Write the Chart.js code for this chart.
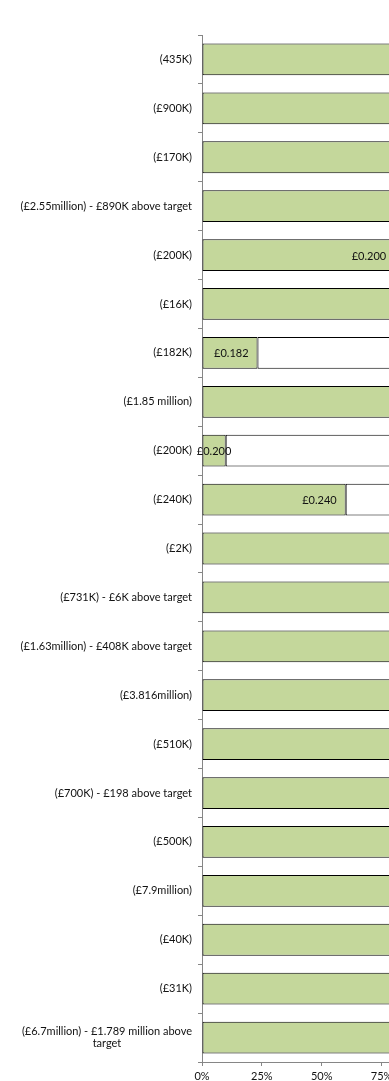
<!DOCTYPE html>
<html>
<head>
<meta charset="utf-8">
<title>Fundraising progress by project</title>
<script src="https://cdn.jsdelivr.net/npm/chart.js@4/dist/chart.umd.min.js"></script>
<style>
  html, body { margin: 0; padding: 0; background: #fff; overflow: hidden; }
  #wrap { width: 460px; height: 1081px; }
</style>
</head>
<body>
<div id="wrap"><canvas id="c" width="460" height="1081"></canvas></div>
<script>
// Project labels (target amounts), top to bottom
const categories = [
  '(435K)',
  '(£900K)',
  '(£170K)',
  '(£2.55million) - £890K above target',
  '(£200K)',
  '(£16K)',
  '(£182K)',
  '(£1.85 million)',
  '(£200K)',
  '(£240K)',
  '(£2K)',
  '(£731K) - £6K above target',
  '(£1.63million) - £408K above target',
  '(£3.816million)',
  '(£510K)',
  '(£700K) - £198 above target',
  '(£500K)',
  '(£7.9million)',
  '(£40K)',
  '(£31K)',
  ['(£6.7million) - £1.789 million above', 'target']
];

// Amount raised so far, £ million
const raised = [0.435, 0.900, 0.170, 2.550, 0.200, 0.016, 0.182, 1.850, 0.200, 0.240,
                0.002, 0.731, 1.630, 3.816, 0.510, 0.700, 0.500, 7.900, 0.040, 0.031, 6.700];

// Amount still to raise, £ million
const remaining = [0, 0, 0, 0, 0.048, 0, 0.603, 0, 1.820, 0.160,
                   0, 0, 0, 0, 0, 0, 0, 0, 0, 0, 0];

// Percentage axis ticks
const xTicks = [0, 25, 50, 75, 100];

const FONT = 'Lato, "Open Sans", sans-serif';
const TEXT = '#111111';
const SIZE = 11;

// 100% stacked shares
const totals = raised.map((r, i) => r + remaining[i]);
const raisedPct = raised.map((r, i) => totals[i] ? r / totals[i] * 100 : 0);
const remainingPct = remaining.map((r, i) => totals[i] ? r / totals[i] * 100 : 0);

// Draws the category names (multi-line names centred on their widest line)
const categoryLabels = {
  id: 'categoryLabels',
  afterDraw(chart) {
    const { ctx } = chart;
    const y = chart.scales.y;
    ctx.save();
    ctx.font = SIZE + 'px ' + FONT;
    ctx.fillStyle = TEXT;
    ctx.textAlign = 'center';
    ctx.textBaseline = 'middle';
    const right = y.right - 10;
    const lh = 11.5;
    chart.data.labels.forEach((lab, i) => {
      const lines = Array.isArray(lab) ? lab : [lab];
      const w = Math.max(...lines.map(l => ctx.measureText(l).width));
      const cx = right - w / 2;
      const cy = y.getPixelForValue(i);
      const y0 = cy - (lines.length - 1) * lh / 2;
      lines.forEach((l, k) => ctx.fillText(l, cx, y0 + k * lh));
    });
    ctx.restore();
  }
};

// Value labels on the raised bars, at the inside end
const valueLabels = {
  id: 'valueLabels',
  afterDatasetsDraw(chart) {
    const { ctx } = chart;
    const meta = chart.getDatasetMeta(0);
    ctx.save();
    ctx.font = SIZE + 'px ' + FONT;
    ctx.fillStyle = TEXT;
    ctx.textBaseline = 'middle';
    meta.data.forEach((bar, i) => {
      const txt = '£' + raised[i].toFixed(3);
      const tw = ctx.measureText(txt).width;
      const pad = 9;
      const left = Math.min(bar.base, bar.x), end = Math.max(bar.base, bar.x);
      if (end - left >= tw + pad * 2) {
        ctx.textAlign = 'right';
        ctx.fillText(txt, end - pad, bar.y + 1);
      } else {
        ctx.textAlign = 'center';
        ctx.fillText(txt, (left + end) / 2, bar.y + 1);
      }
    });
    ctx.restore();
  }
};

new Chart(document.getElementById('c'), {
  type: 'bar',
  data: {
    labels: categories,
    datasets: [
      {
        label: 'Raised',
        data: raisedPct,
        backgroundColor: '#c4d79b',
        borderColor: '#000000',
        borderWidth: 1,
        borderSkipped: false,
        barPercentage: 0.65,
        categoryPercentage: 1
      },
      {
        label: 'Remaining',
        data: remainingPct,
        backgroundColor: '#ffffff',
        borderColor: '#000000',
        borderWidth: 1,
        borderSkipped: false,
        barPercentage: 0.65,
        categoryPercentage: 1
      }
    ]
  },
  options: {
    indexAxis: 'y',
    responsive: false,
    animation: false,
    devicePixelRatio: 1,
    layout: { padding: { top: 35, right: 18.5, bottom: 0, left: 0 } },
    plugins: {
      legend: { display: false },
      tooltip: { enabled: false }
    },
    scales: {
      x: {
        stacked: true,
        min: xTicks[0],
        max: xTicks[xTicks.length - 1],
        afterBuildTicks(scale) { scale.ticks = xTicks.map(v => ({ value: v })); },
        afterFit(scale) { scale.height = 19; },
        grid: { drawOnChartArea: false, color: '#868686', tickLength: 4 },
        border: { color: '#868686', width: 1 },
        ticks: {
          padding: 4,
          color: TEXT,
          font: { family: FONT, size: SIZE },
          maxRotation: 0,
          callback: v => v + '%'
        }
      },
      y: {
        stacked: true,
        afterFit(scale) { scale.width = 202; },
        grid: { drawOnChartArea: false, offset: true, color: '#868686', tickLength: 4 },
        border: { color: '#868686', width: 1 },
        ticks: { display: false }
      }
    }
  },
  plugins: [categoryLabels, valueLabels]
});
</script>
</body>
</html>
